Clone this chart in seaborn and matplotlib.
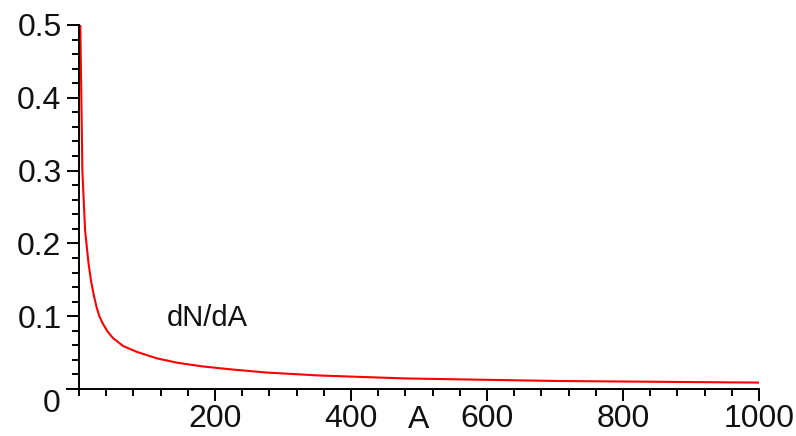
import numpy as np
import pandas as pd
import matplotlib
matplotlib.use("Agg")
import matplotlib.pyplot as plt
import seaborn as sns
from matplotlib.ticker import MultipleLocator, FixedLocator

# ─── Data ────────────────────────────────────────────────────────────────────
A_values = [2, 5, 9, 14, 18, 22, 26, 30, 35, 42, 50, 65, 85, 115, 145, 182,
            223, 276, 355, 480, 703, 1000]
dNdA = [0.5, 0.30, 0.218, 0.173, 0.147, 0.128, 0.112, 0.100, 0.090, 0.079,
        0.070, 0.059, 0.051, 0.042, 0.036, 0.031, 0.027, 0.0226, 0.0185,
        0.0145, 0.011, 0.0088]
x_ticks = [200, 400, 600, 800, 1000]
y_ticks = [0.1, 0.2, 0.3, 0.4, 0.5]
curve_label = "dN/dA"
x_label = "A"
# ──────────────────────────────────────────────────────────────────────────────

sns.set_style("ticks")
plt.rcParams["font.family"] = ["Liberation Sans", "DejaVu Sans"]

df = pd.DataFrame({"A": A_values, "dNdA": dNdA})

fig = plt.figure(figsize=(7.96, 4.36), dpi=100)
ax = fig.add_axes([67 / 796, 47 / 436, 692 / 796, 364 / 436])

sns.lineplot(data=df, x="A", y="dNdA", ax=ax, color="#ff0000",
             linewidth=1.5, sort=False, estimator=None)

ax.set_xlim(-17.6, 1000)
ax.set_ylim(0, 0.5)

# Maple-like axes: crossing at the origin
ax.spines["left"].set_position(("data", 0))
ax.spines["top"].set_visible(False)
ax.spines["right"].set_visible(False)
for s in ("left", "bottom"):
    ax.spines[s].set_linewidth(1.4)
    ax.spines[s].set_color("black")

ax.xaxis.set_major_locator(FixedLocator(x_ticks))
ax.xaxis.set_minor_locator(MultipleLocator(40))
ax.yaxis.set_major_locator(FixedLocator(y_ticks))
ax.yaxis.set_minor_locator(MultipleLocator(0.02))
ax.set_xticklabels([str(v) for v in x_ticks])
ax.set_yticklabels([f"{v:g}" for v in y_ticks])

ax.tick_params(axis="both", which="major", direction="out", length=8.5,
               width=1.4, color="black", labelsize=23, labelcolor="#111111")
ax.tick_params(axis="both", which="minor", direction="out", length=5,
               width=1.4, color="black")
ax.tick_params(axis="x", which="major", pad=2)
ax.tick_params(axis="y", which="major", pad=4)

ax.set_xlabel("")
ax.set_ylabel("")

# origin label and axis name
ax.annotate("0", xy=(0, 0), xytext=(-20, -11), textcoords="offset points",
            ha="center", va="center", fontsize=23, color="#111111",
            annotation_clip=False)
ax.annotate(x_label, xy=(500, 0), xytext=(0, -22), textcoords="offset points",
            ha="center", va="center", fontsize=23, color="#111111",
            annotation_clip=False)
ax.text(129, 0.098, curve_label, ha="left", va="center", fontsize=21,
        color="#111111")

fig.savefig("out.png", dpi=100)
plt.close(fig)
